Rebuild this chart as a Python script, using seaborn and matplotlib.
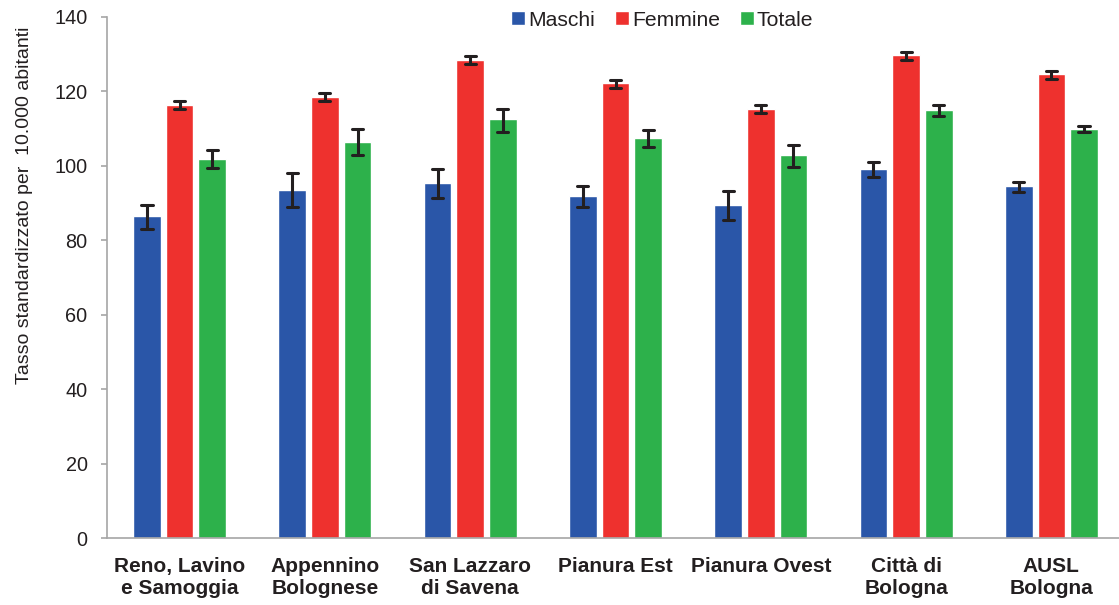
import numpy as np
import pandas as pd
import matplotlib
matplotlib.use("Agg")
import matplotlib.pyplot as plt
import seaborn as sns

categories = ["Reno, Lavino\ne Samoggia", "Appennino\nBolognese", "San Lazzaro\ndi Savena",
              "Pianura Est", "Pianura Ovest", "Città di\nBologna", "AUSL\nBologna"]
series = ["Maschi", "Femmine", "Totale"]

maschi = [86.5, 93.5, 95.5, 91.9, 89.4, 99.1, 94.5]
maschi_lo = [83.1, 88.9, 91.3, 88.9, 85.5, 97.0, 93.0]
maschi_hi = [89.5, 98.0, 99.2, 94.6, 93.2, 101.0, 95.7]

femmine = [116.4, 118.6, 128.5, 122.2, 115.4, 129.8, 124.6]
femmine_lo = [115.2, 117.4, 127.3, 120.9, 114.1, 128.4, 123.4]
femmine_hi = [117.3, 119.5, 129.4, 123.1, 116.3, 130.7, 125.6]

totale = [101.9, 106.5, 112.5, 107.5, 102.9, 115.0, 110.0]
totale_lo = [99.3, 102.8, 109.2, 105.2, 99.6, 113.3, 109.2]
totale_hi = [104.3, 109.9, 115.4, 109.7, 105.7, 116.3, 110.8]

colors = ["#2a56a8", "#ee312e", "#2db14b"]
text_color = "#231f20"
axis_color = "#a6a6a6"

# long-form table: lower bound, value, upper bound per bar
rows = []
for name, val, lo, hi in [("Maschi", maschi, maschi_lo, maschi_hi),
                          ("Femmine", femmine, femmine_lo, femmine_hi),
                          ("Totale", totale, totale_lo, totale_hi)]:
    for c, v, l, h in zip(categories, val, lo, hi):
        for x in (l, v, h):
            rows.append({"Area": c, "Serie": name, "Tasso": x})
df = pd.DataFrame(rows)

sns.set_theme(style="white")
plt.rcParams["font.family"] = ["Liberation Sans", "DejaVu Sans"]

fig = plt.figure(figsize=(11.19, 6.05), dpi=100)
ax = fig.add_axes([107 / 1119, (605 - 538) / 605, 1017 / 1119, 521 / 605])

sns.barplot(data=df, x="Area", y="Tasso", hue="Serie", order=categories, hue_order=series,
            palette=colors, estimator=np.median,
            errorbar=lambda v: (np.min(v), np.max(v)),
            width=0.675, gap=0.153, capsize=0.23, saturation=1,
            err_kws={"color": text_color, "linewidth": 2.2},
            ax=ax)

ax.set_xlim(-0.5, 6.5)
ax.set_ylim(0, 140)
ax.set_yticks(np.arange(0, 141, 20))

for s in ["top", "right"]:
    ax.spines[s].set_visible(False)
for s in ["left", "bottom"]:
    ax.spines[s].set_color(axis_color)
    ax.spines[s].set_linewidth(1.2)

ax.tick_params(axis="y", which="both", left=True, length=4, width=1.2, color=axis_color,
               labelsize=14.3, labelcolor=text_color, pad=10)
ax.tick_params(axis="x", bottom=False, labelsize=15, labelcolor=text_color, pad=8)
for lbl in ax.get_xticklabels():
    lbl.set_fontweight("bold")

ax.set_xlabel("")
ax.set_ylabel("Tasso standardizzato per  10.000 abitanti", fontsize=14, color=text_color)
ax.yaxis.set_label_coords(-0.0728, 0.639)

sns.move_legend(ax, "center", bbox_to_anchor=(0.546, 0.994), ncol=3, frameon=False,
                title=None, fontsize=15.2, handlelength=0.65, handleheight=0.65,
                handletextpad=0.15, columnspacing=0.95, labelcolor=text_color)

fig.savefig("out.png", dpi=100)
